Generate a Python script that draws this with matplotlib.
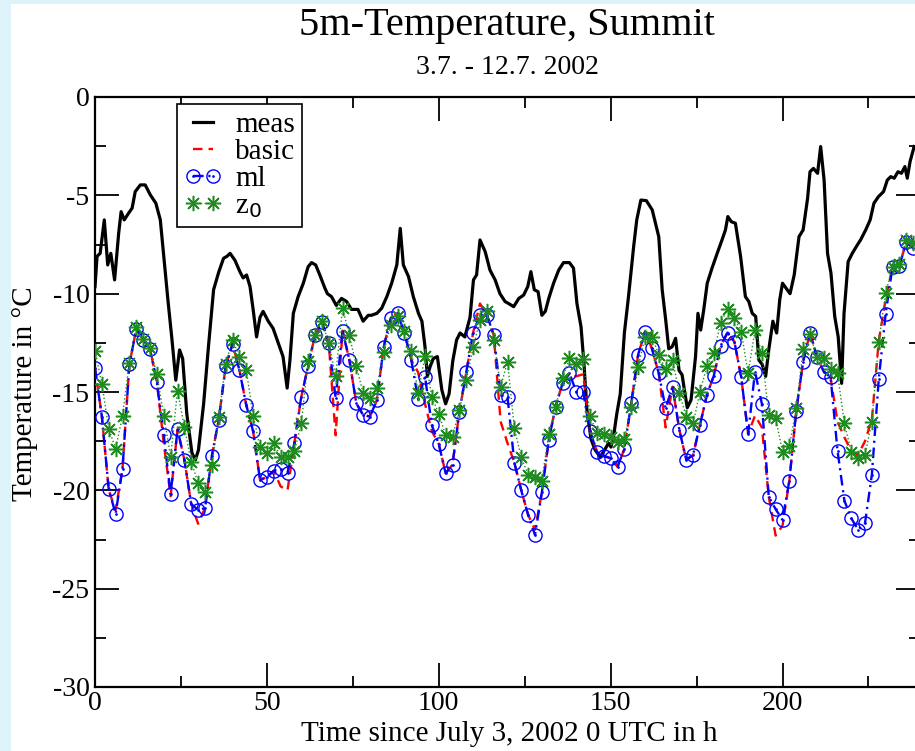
import numpy as np
import matplotlib
matplotlib.use("Agg")
import matplotlib.pyplot as plt
from matplotlib.path import Path
from matplotlib.patches import Rectangle
from matplotlib.ticker import MultipleLocator

# ==== data ====
meas_hours = [0, 0.6, 1.5, 2.7, 3.7, 4.6, 5.7, 6.9, 7.6, 8.5, 9.8, 10.8, 11.7, 13.2, 14.6, 16.1,
              17.7, 19.0, 20.0, 21.2, 22.4, 23.5, 24.6, 25.5, 26.7, 28.2, 29.2, 30.1, 31.6, 33.0,
              34.5, 36.0, 37.4, 38.4, 39.3, 40.7, 42.2, 43.1, 44.1, 45.1, 46.0, 47.0, 48.0, 48.9,
              50.4, 51.8, 53.3, 54.7, 55.9, 56.7, 57.7, 59.1, 60.6, 62.0, 63.0, 64.2, 65.4, 66.9,
              67.6, 68.8, 70.2, 71.7, 73.2, 74.6, 76.5, 78.0, 79.5, 80.4, 82.0, 83.4, 84.9, 86.3,
              87.8, 88.8, 89.7, 91.2, 92.6, 94.1, 95.1, 96.0, 96.7, 97.5, 98.4, 99.6, 100.9, 102.0,
              103.0, 104.1, 105.2, 106.2, 107.6, 109.1, 110.1, 111.0, 112.0, 113.5, 114.9, 116.4,
              117.8, 119.3, 120.3, 121.8, 123.3, 124.7, 125.9, 126.8, 127.8, 128.9, 130.0, 131.0,
              132.0, 133.4, 134.9, 136.3, 138.0, 139.2, 140.2, 141.4, 142.3, 143.1, 144.3, 145.5,
              147.0, 148.4, 149.4, 150.1, 150.9, 151.8, 152.8, 154.0, 155.2, 156.7, 157.6, 158.8,
              160.4, 162.1, 164.0, 165.0, 166.0, 166.9, 167.9, 168.9, 169.9, 170.8, 171.6, 172.3,
              173.4, 174.7, 175.4, 176.2, 177.1, 178.1, 179.5, 181.0, 182.4, 183.4, 184.1, 185.1,
              186.3, 187.8, 189.2, 190.2, 191.2, 192.2, 193.1, 194.1, 195.1, 196.0, 197.2, 198.3,
              199.2, 200.0, 202.2, 203.4, 204.8, 206.0, 207.3, 208.0, 209.0, 210.2, 211.1, 212.1,
              213.1, 214.1, 215.2, 216.2, 217.2, 217.9, 219.1, 220.3, 221.5, 222.7, 224.2, 225.5,
              226.6, 227.9, 229.4, 230.5, 231.5, 232.5, 233.6, 234.6, 235.6, 236.3, 237.1, 238.3]
meas_temp = [-9.64, -8.1, -7.95, -6.25, -8.54, -7.95, -9.3, -6.9, -5.83, -6.25, -5.9, -5.65, -4.81,
             -4.47, -4.47, -4.98, -5.4, -6.25, -8.1, -10.3, -12.35, -14.4, -12.86, -13.3, -16.1,
             -18.1, -18.45, -17.95, -15.6, -12.7, -9.8, -8.9, -8.2, -8.1, -7.95, -8.3, -8.9, -9.2,
             -9.05, -9.64, -10.8, -12.2, -11.2, -10.9, -11.4, -11.76, -12.5, -13.2, -14.8, -13.4,
             -11.0, -10.15, -9.47, -8.63, -8.42, -8.54, -9.05, -9.73, -10.0, -10.15, -10.6, -10.24,
             -10.4, -10.8, -10.8, -11.4, -11.1, -11.1, -11.0, -10.74, -10.15, -9.47, -8.54, -6.68,
             -8.54, -9.13, -10.15, -11.0, -11.4, -12.7, -14.2, -13.7, -13.3, -13.2, -14.9, -15.6,
             -15.1, -13.4, -12.35, -12.0, -12.2, -11.2, -9.3, -9.05, -7.27, -7.86, -8.8, -9.3,
             -10.0, -10.4, -10.5, -10.66, -10.24, -10.07, -9.64, -8.88, -9.8, -9.9, -11.1, -10.9,
             -10.24, -9.47, -8.8, -8.42, -8.42, -8.7, -10.5, -11.7, -13.7, -15.9, -17.4, -17.95,
             -18.3, -17.9, -17.6, -17.8, -17.2, -16.1, -15.1, -12.0, -10.15, -7.6, -6.25, -5.24,
             -5.27, -5.74, -7.1, -9.8, -11.3, -12.8, -12.7, -12.27, -13.9, -14.13, -15.06, -15.8,
             -15.4, -13.2, -11.0, -11.85, -10.8, -9.47, -8.7, -7.95, -7.27, -6.76, -6.08, -6.34,
             -6.42, -8.1, -10.15, -10.4, -11.0, -11.16, -13.37, -13.6, -14.2, -12.86, -11.4, -12.0,
             -10.3, -9.47, -10.0, -9.05, -7.1, -6.76, -5.15, -3.8, -3.63, -3.88, -2.52, -4.22,
             -7.95, -8.96, -11.17, -12.19, -14.56, -11.0, -8.37, -7.95, -7.6, -7.27, -6.76, -6.25,
             -5.4, -5.07, -4.81, -4.22, -4.05, -4.13, -3.8, -3.88, -3.54, -4.13, -3.29, -2.52]

# model output every 2 h
model_hours = np.arange(0, 240, 2)
basic = [-13.8, -16.25, -20.0, -21.0, -18.9, -13.6, -11.8, -12.35, -12.8, -14.5,
         -17.6, -20.3, -16.9, -18.45, -20.7, -21.7, -20.9, -18.25, -16.4, -13.7,
         -12.56, -13.88, -15.66, -17.0, -19.47, -19.33, -19.0, -19.8, -20.0, -17.6,
         -15.24, -13.68, -12.1, -11.42, -12.52, -17.2, -11.88, -13.37, -15.57, -16.17,
         -16.25, -15.4, -12.7, -11.25, -11.0, -11.98, -13.37, -14.0, -15.6, -17.0,
         -17.64, -19.13, -18.7, -16.0, -14.0, -11.98, -10.5, -11.08, -12.1, -16.5,
         -17.6, -18.6, -20.0, -21.25, -22.0, -20.1, -17.44, -15.74, -14.56, -14.05,
         -14.2, -14.1, -17.0, -18.03, -18.25, -18.37, -18.8, -17.9, -15.57, -13.1,
         -11.93, -12.78, -14.05, -16.8, -14.73, -16.93, -18.45, -18.2, -16.67, -15.15,
         -14.18, -12.66, -11.98, -12.44, -14.25, -17.13, -16.2, -16.8, -20.32, -22.3,
         -21.8, -19.5, -15.95, -13.45, -11.98, -13.2, -13.96, -14.3, -16.5, -17.3,
         -18.0, -18.2, -17.5, -16.4, -12.4, -10.3, -8.63, -8.6, -7.36, -7.7]
ml = [-13.8, -16.25, -19.95, -21.2, -18.9, -13.6, -11.8, -12.35, -12.8, -14.5,
      -17.2, -20.2, -16.9, -18.45, -20.7, -21.0, -20.9, -18.25, -16.4, -13.7,
      -12.56, -13.88, -15.66, -17.0, -19.47, -19.33, -19.0, -18.93, -19.1, -17.6,
      -15.24, -13.68, -12.1, -11.42, -12.52, -15.3, -11.88, -13.37, -15.57, -16.17,
      -16.25, -15.4, -12.7, -11.25, -11.0, -11.98, -13.37, -15.37, -14.22, -16.7,
      -17.64, -19.13, -18.7, -16.0, -14.0, -11.98, -11.08, -11.08, -12.1, -15.15,
      -15.24, -18.6, -20.0, -21.25, -22.27, -20.1, -17.44, -15.74, -14.56, -14.05,
      -14.98, -14.98, -17.0, -18.03, -18.25, -18.37, -18.8, -17.9, -15.57, -13.1,
      -11.93, -12.78, -14.05, -15.83, -14.73, -16.93, -18.45, -18.2, -16.67, -15.15,
      -14.18, -12.66, -11.98, -12.44, -14.25, -17.13, -13.96, -15.6, -20.32, -20.96,
      -21.5, -19.5, -15.95, -13.45, -11.98, -13.2, -13.96, -14.25, -17.98, -20.52,
      -21.42, -22.0, -21.67, -19.2, -14.35, -11.03, -8.63, -8.6, -7.36, -7.7]
z0 = [-12.9, -14.6, -16.86, -17.9, -16.2, -13.5, -11.68, -12.3, -12.74, -14.1,
      -16.2, -18.3, -14.93, -16.8, -18.54, -19.64, -20.06, -18.7, -16.25, -13.57,
      -12.35, -13.2, -13.88, -16.2, -17.78, -18.1, -17.6, -18.3, -18.3, -18.0,
      -16.6, -13.4, -12.1, -11.4, -12.5, -14.2, -10.74, -12.1, -13.68, -15.06,
      -15.3, -14.8, -12.95, -11.6, -11.13, -11.88, -12.9, -15.03, -13.17, -15.27,
      -16.1, -17.2, -17.27, -15.9, -14.4, -12.73, -11.34, -10.9, -12.35, -14.73,
      -13.46, -16.85, -18.32, -19.2, -19.33, -19.5, -17.13, -15.78, -14.3, -13.28,
      -13.57, -13.33, -16.2, -17.1, -17.13, -17.27, -17.52, -17.4, -15.78, -13.74,
      -12.2, -12.18, -13.1, -13.84, -13.37, -15.06, -16.25, -16.6, -14.98, -13.7,
      -13.03, -11.47, -10.8, -11.25, -11.93, -14.05, -11.85, -13.03, -16.17, -16.33,
      -18.03, -17.75, -15.83, -12.83, -12.05, -13.23, -13.29, -13.84, -14.05, -16.6,
      -18.03, -18.37, -18.2, -16.5, -12.44, -9.98, -8.63, -8.49, -7.27, -7.44]
# =====================================

W, H = 915, 751
plt.rcParams["font.family"] = ["Liberation Serif", "DejaVu Serif"]
plt.rcParams["axes.unicode_minus"] = False

fig = plt.figure(figsize=(W / 100, H / 100), dpi=100, facecolor="#dff3fb")
# white page inside the light blue border
fig.patches.append(Rectangle((11 / W, 0), 1, (H - 4) / H, transform=fig.transFigure,
                             facecolor="white", edgecolor="none", zorder=-10))

# axes box: 95..920 px horizontally (right edge falls just off the image), 97..687 px vertically
ax = fig.add_axes([95 / W, (H - 687) / H, 825 / W, 590 / H])

# circle with a dot in the middle, like the Grace symbol
odot = Path.make_compound_path(Path.unit_circle(), Path.circle((0, 0), 0.1))

ax.plot(meas_hours, meas_temp, color="black", lw=2.3, label="meas", zorder=3)
ax.plot(model_hours, basic, color="red", lw=1.7, dashes=(4.0, 2.6), label="basic", zorder=4)
ax.plot(model_hours, ml, color="blue", lw=1.7, dashes=(4.5, 2.0, 0.9, 2.0),
        marker=odot, markersize=9.5, markerfacecolor="none", markeredgecolor="blue",
        markeredgewidth=1.0, label="ml", zorder=5)
ax.plot(model_hours, z0, color="#1e8c1e", lw=1.0, ls=":", marker=(8, 2, 0),
        markersize=11, markeredgewidth=1.1, label="z$_0$", zorder=6)

ax.set_xlim(0, 240)
ax.set_ylim(-30, 0)
ax.xaxis.set_major_locator(MultipleLocator(50))
ax.xaxis.set_minor_locator(MultipleLocator(25))
ax.yaxis.set_major_locator(MultipleLocator(5))
ax.yaxis.set_minor_locator(MultipleLocator(2.5))
ax.tick_params(which="both", direction="in", top=True, right=True, labelsize=20, width=1.3)
ax.tick_params(axis="y", which="major", length=17, pad=4)
ax.tick_params(axis="y", which="minor", length=8)
ax.tick_params(axis="x", which="major", length=17, pad=3)
ax.tick_params(axis="x", which="minor", length=8)
for sp in ax.spines.values():
    sp.set_linewidth(1.6)

leg = ax.legend(loc="upper left", bbox_to_anchor=(0.099, 0.988), borderaxespad=0,
                fontsize=21, numpoints=2, handlelength=1.3, handletextpad=0.45,
                labelspacing=0.02, borderpad=0.25, fancybox=False, framealpha=1,
                edgecolor="black")
leg.get_frame().set_linewidth(1.2)
leg.set_zorder(10)

fig.text(507 / W, 1 - 25 / H, "5m-Temperature, Summit", ha="center", va="center", fontsize=29)
fig.text(507 / W, 1 - 68 / H, "3.7. - 12.7. 2002", ha="center", va="center", fontsize=20)
fig.text(509 / W, 1 - 734 / H, "Time since July 3, 2002 0 UTC in h", ha="center",
         va="center", fontsize=21)
fig.text(25 / W, 1 - 394 / H, "Temperature in \u00b0C", ha="center", va="center",
         rotation=90, fontsize=21)

fig.savefig("out.png", dpi=100, facecolor=fig.get_facecolor())
